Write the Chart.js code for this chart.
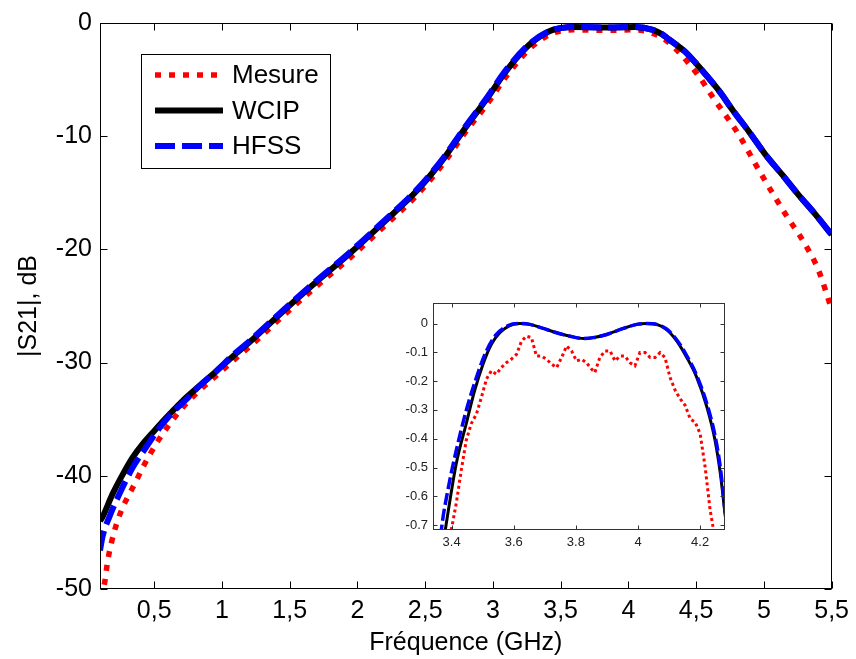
<!DOCTYPE html>
<html>
<head>
<meta charset="utf-8">
<script src="https://cdn.jsdelivr.net/npm/chart.js@4.4.1/dist/chart.umd.min.js"></script>
<style>
  html, body { margin: 0; padding: 0; background: #fff; }
  #wrap { position: relative; width: 856px; height: 659px; }
  #main { position: absolute; left: 0; top: 0; }
  #inset { position: absolute; left: 390px; top: 290px; }
</style>
</head>
<body>
<div id="wrap">
  <canvas id="main" width="856" height="659"></canvas>
  <canvas id="inset" width="345" height="270"></canvas>
</div>
<script>
// --- main plot data (GHz / dB) ---
const xTicks = [0.5, 1, 1.5, 2, 2.5, 3, 3.5, 4, 4.5, 5, 5.5];
const yTicks = [0, -10, -20, -30, -40, -50];

const mesureFreq = [0.1, 0.132, 0.157, 0.206, 0.267, 0.304, 0.365, 0.414, 0.513, 0.61, 0.708, 0.83, 0.954, 1.076, 1.213, 1.458, 1.704, 1.949, 2.194, 2.44, 2.635, 2.8, 2.955, 3.1, 3.27, 3.42, 3.5, 3.6, 3.85, 4.05, 4.15, 4.25, 4.35, 4.52, 4.62, 4.816, 4.963, 5.16, 5.307, 5.405, 5.5];
const mesureDb = [-50.8, -49.6, -47.5, -44.9, -42.8, -41.9, -40.5, -39.3, -37.2, -35.5, -34.0, -32.5, -31.2, -29.9, -28.5, -25.8, -23.2, -20.7, -18.0, -15.2, -12.4, -9.6, -7.2, -4.7, -2.3, -1.0, -0.7, -0.6, -0.65, -0.6, -0.8, -1.3, -2.3, -4.7, -6.5, -9.9, -13.0, -16.9, -19.6, -21.9, -25.3];

const wcipFreq = [0.1, 0.12, 0.193, 0.267, 0.34, 0.414, 0.488, 0.586, 0.708, 0.83, 0.954, 1.076, 1.213, 1.458, 1.704, 1.949, 2.194, 2.44, 2.635, 2.8, 2.955, 3.1, 3.27, 3.42, 3.5, 3.6, 3.85, 4.05, 4.18, 4.25, 4.3, 4.42, 4.545, 4.67, 4.77, 4.89, 5.01, 5.135, 5.257, 5.38, 5.5];
const wcipDb = [-44.0, -43.6, -41.6, -39.9, -38.4, -37.2, -36.2, -34.9, -33.4, -32.1, -30.8, -29.5, -28.1, -25.4, -22.8, -20.3, -17.6, -14.8, -12.0, -9.2, -6.7, -4.2, -1.9, -0.7, -0.45, -0.35, -0.4, -0.35, -0.6, -1.0, -1.45, -2.55, -4.2, -6.0, -7.7, -9.6, -11.6, -13.4, -15.2, -16.9, -18.7];

const hfssFreq = [0.1, 0.12, 0.17, 0.243, 0.34, 0.439, 0.537, 0.635, 0.733, 0.83, 0.954, 1.076, 1.213, 1.458, 1.704, 1.949, 2.194, 2.44, 2.635, 2.8, 2.955, 3.1, 3.27, 3.42, 3.5, 3.6, 3.85, 4.05, 4.18, 4.25, 4.3, 4.42, 4.545, 4.67, 4.77, 4.89, 5.01, 5.135, 5.257, 5.38, 5.5];
const hfssDb = [-46.6, -45.3, -43.6, -41.6, -39.3, -37.5, -35.8, -34.4, -33.3, -32.1, -30.8, -29.4, -28.0, -25.3, -22.7, -20.2, -17.5, -14.7, -11.9, -9.1, -6.6, -4.1, -1.85, -0.7, -0.45, -0.35, -0.4, -0.35, -0.6, -1.0, -1.45, -2.55, -4.2, -6.0, -7.7, -9.6, -11.6, -13.4, -15.2, -16.9, -18.7];

// --- inset (zoom on passband) ---
const insetXTicks = [3.4, 3.6, 3.8, 4, 4.2];
const insetYTicks = [0, -0.1, -0.2, -0.3, -0.4, -0.5, -0.6, -0.7];

const insetMesureFreq = [3.39, 3.399, 3.415, 3.431, 3.447, 3.463, 3.48, 3.496, 3.512, 3.528, 3.544, 3.56, 3.576, 3.592, 3.609, 3.625, 3.641, 3.657, 3.673, 3.689, 3.705, 3.722, 3.738, 3.754, 3.77, 3.786, 3.802, 3.818, 3.834, 3.851, 3.861, 3.877, 3.894, 3.91, 3.926, 3.942, 3.958, 3.974, 3.99, 4.006, 4.023, 4.039, 4.055, 4.071, 4.087, 4.103, 4.12, 4.136, 4.152, 4.168, 4.184, 4.2, 4.216, 4.232, 4.243, 4.25];
const insetMesureDb = [-0.8, -0.716, -0.624, -0.509, -0.406, -0.348, -0.314, -0.256, -0.193, -0.164, -0.176, -0.153, -0.136, -0.124, -0.107, -0.061, -0.044, -0.049, -0.113, -0.113, -0.124, -0.141, -0.153, -0.118, -0.078, -0.095, -0.13, -0.124, -0.136, -0.159, -0.17, -0.118, -0.095, -0.095, -0.13, -0.113, -0.113, -0.136, -0.147, -0.101, -0.101, -0.118, -0.118, -0.101, -0.118, -0.187, -0.233, -0.262, -0.285, -0.331, -0.343, -0.383, -0.498, -0.647, -0.716, -0.8];

const insetWcipFreq = [3.375, 3.383, 3.415, 3.447, 3.474, 3.501, 3.528, 3.555, 3.587, 3.619, 3.652, 3.695, 3.738, 3.781, 3.824, 3.856, 3.899, 3.953, 3.996, 4.028, 4.06, 4.092, 4.125, 4.157, 4.189, 4.222, 4.248, 4.265, 4.281];
const insetWcipDb = [-0.75, -0.693, -0.486, -0.348, -0.233, -0.141, -0.072, -0.032, -0.007, 0, -0.003, -0.017, -0.032, -0.044, -0.052, -0.049, -0.038, -0.017, -0.003, 0, -0.003, -0.021, -0.061, -0.118, -0.187, -0.291, -0.406, -0.521, -0.67];

const insetHfssFreq = [3.365, 3.367, 3.388, 3.415, 3.447, 3.48, 3.512, 3.544, 3.582, 3.619, 3.652, 3.695, 3.738, 3.781, 3.824, 3.856, 3.899, 3.953, 3.996, 4.028, 4.06, 4.092, 4.125, 4.157, 4.189, 4.222, 4.248, 4.265, 4.281];
const insetHfssDb = [-0.74, -0.716, -0.578, -0.44, -0.302, -0.187, -0.095, -0.038, -0.007, 0, -0.003, -0.017, -0.032, -0.044, -0.052, -0.049, -0.038, -0.017, -0.003, 0, -0.003, -0.019, -0.057, -0.112, -0.18, -0.28, -0.39, -0.5, -0.66];

const toXY = (xs, ys) => xs.map((v, i) => ({ x: v, y: ys[i] }));

const FONT = 'Arial, "Liberation Sans", Helvetica, sans-serif';

// box + inward tick marks (MATLAB style)
const frameTicks = {
    id: 'frameTicks',
    afterDatasetsDraw(chart, args, opts) {
        const { ctx, chartArea: a, scales: { x, y } } = chart;
        const L = Math.round(a.left) + 0.5, R = Math.round(a.right) - 0.5;
        const T = Math.round(a.top) + 0.5, B = Math.round(a.bottom) - 0.5;
        ctx.save();
        ctx.strokeStyle = opts.color;
        ctx.lineWidth = 1;
        ctx.beginPath();
        x.ticks.forEach(t => {
            const p = Math.round(x.getPixelForValue(t.value)) + 0.5;
            ctx.moveTo(p, B); ctx.lineTo(p, B - opts.len);
            ctx.moveTo(p, T); ctx.lineTo(p, T + opts.len);
        });
        y.ticks.forEach(t => {
            const p = Math.round(y.getPixelForValue(t.value)) + 0.5;
            ctx.moveTo(L, p); ctx.lineTo(L + opts.len, p);
            ctx.moveTo(R, p); ctx.lineTo(R - opts.len, p);
        });
        ctx.stroke();
        ctx.strokeRect(L, T, R - L, B - T);
        ctx.restore();
    }
};

// legend in a framed box
const boxLegend = {
    id: 'boxLegend',
    afterDraw(chart, args, o) {
        const ctx = chart.ctx;
        ctx.save();
        ctx.fillStyle = '#fff';
        ctx.fillRect(o.left, o.top, o.width, o.height);
        ctx.strokeStyle = '#000';
        ctx.lineWidth = 1;
        ctx.strokeRect(o.left + 0.5, o.top + 0.5, o.width, o.height);
        chart.data.datasets.forEach((ds, i) => {
            const yy = o.top + o.firstRow + i * o.rowGap;
            ctx.strokeStyle = ds.borderColor;
            ctx.lineWidth = ds.borderWidth;
            ctx.setLineDash(ds.borderDash || []);
            ctx.beginPath();
            ctx.moveTo(o.left + o.lineStart, yy);
            ctx.lineTo(o.left + o.lineEnd, yy);
            ctx.stroke();
            ctx.setLineDash([]);
            ctx.fillStyle = '#000';
            ctx.font = o.font;
            ctx.textBaseline = 'middle';
            ctx.fillText(ds.label, o.left + o.textStart, yy + 1);
        });
        ctx.restore();
    }
};

new Chart(document.getElementById('main'), {
    type: 'line',
    data: {
        datasets: [
            {
                label: 'Mesure',
                data: toXY(mesureFreq, mesureDb),
                borderColor: '#ff0000',
                borderWidth: 5.5,
                borderDash: [6, 8],
                order: 2
            },
            {
                label: 'WCIP',
                data: toXY(wcipFreq, wcipDb),
                borderColor: '#000000',
                borderWidth: 6,
                order: 1
            },
            {
                label: 'HFSS',
                data: toXY(hfssFreq, hfssDb),
                borderColor: '#0000ff',
                borderWidth: 6,
                borderDash: [20, 7],
                order: 0
            }
        ]
    },
    options: {
        responsive: false,
        animation: false,
        events: [],
        clip: 0,
        elements: {
            point: { radius: 0 },
            line: { cubicInterpolationMode: 'monotone', borderCapStyle: 'butt' }
        },
        layout: { padding: { top: 22, right: 23, left: 0, bottom: 0 } },
        scales: {
            x: {
                type: 'linear',
                min: 0.1,
                max: 5.5,
                afterBuildTicks: s => { s.ticks = xTicks.map(v => ({ value: v })); },
                afterFit: s => { s.height = 70; },
                grid: { display: false, drawTicks: false },
                border: { display: false },
                ticks: {
                    color: '#000',
                    padding: 7,
                    maxRotation: 0,
                    font: { family: FONT, size: 25 },
                    callback: v => String(v).replace('.', ',')
                },
                title: {
                    display: true,
                    text: 'Fréquence (GHz)',
                    color: '#000',
                    padding: { top: 0, bottom: 1 },
                    font: { family: FONT, size: 25 }
                }
            },
            y: {
                min: -50,
                max: 0,
                afterBuildTicks: s => { s.ticks = yTicks.map(v => ({ value: v })); },
                afterFit: s => { s.width = 100; },
                grid: { display: false, drawTicks: false },
                border: { display: false },
                ticks: {
                    color: '#000',
                    padding: 8,
                    font: { family: FONT, size: 25 }
                },
                title: {
                    display: true,
                    text: '|S21|, dB',
                    color: '#000',
                    padding: { top: 14, bottom: 0 },
                    font: { family: FONT, size: 25 }
                }
            }
        },
        plugins: {
            legend: { display: false },
            tooltip: { enabled: false },
            frameTicks: { len: 7, color: '#000' },
            boxLegend: {
                left: 141, top: 54, width: 189, height: 114,
                firstRow: 21, rowGap: 35.5,
                lineStart: 14, lineEnd: 82, textStart: 91,
                font: '26px ' + FONT
            }
        }
    },
    plugins: [frameTicks, boxLegend]
});

new Chart(document.getElementById('inset'), {
    type: 'line',
    data: {
        datasets: [
            {
                label: 'Mesure',
                data: toXY(insetMesureFreq, insetMesureDb),
                borderColor: '#ff0000',
                borderWidth: 3,
                borderDash: [3, 3],
                tension: 0,
                order: 2
            },
            {
                label: 'WCIP',
                data: toXY(insetWcipFreq, insetWcipDb),
                borderColor: '#000000',
                borderWidth: 3,
                cubicInterpolationMode: 'monotone',
                order: 1
            },
            {
                label: 'HFSS',
                data: toXY(insetHfssFreq, insetHfssDb),
                borderColor: '#0000ff',
                borderWidth: 3.5,
                borderDash: [12, 4],
                cubicInterpolationMode: 'monotone',
                order: 0
            }
        ]
    },
    options: {
        responsive: false,
        animation: false,
        events: [],
        clip: 0,
        elements: {
            point: { radius: 0 },
            line: { borderCapStyle: 'butt' }
        },
        layout: { padding: { top: 11, right: 10, left: 0, bottom: 0 } },
        scales: {
            x: {
                type: 'linear',
                min: 3.34,
                max: 4.28,
                afterBuildTicks: s => { s.ticks = insetXTicks.map(v => ({ value: v })); },
                afterFit: s => { s.height = 30; },
                grid: { display: false, drawTicks: false },
                border: { display: false },
                ticks: {
                    color: '#222',
                    padding: 5,
                    maxRotation: 0,
                    font: { family: FONT, size: 13 },
                    callback: v => (v === 4 ? '4' : v.toFixed(1))
                }
            },
            y: {
                min: -0.717,
                max: 0.072,
                afterBuildTicks: s => { s.ticks = insetYTicks.map(v => ({ value: v })); },
                afterFit: s => { s.width = 43; },
                grid: { display: false, drawTicks: false },
                border: { display: false },
                ticks: {
                    color: '#222',
                    padding: 5,
                    font: { family: FONT, size: 13 },
                    callback: v => (v === 0 ? '0' : v.toFixed(1))
                }
            }
        },
        plugins: {
            legend: { display: false },
            tooltip: { enabled: false },
            frameTicks: { len: 4, color: '#333' }
        }
    },
    plugins: [frameTicks]
});
</script>
</body>
</html>
